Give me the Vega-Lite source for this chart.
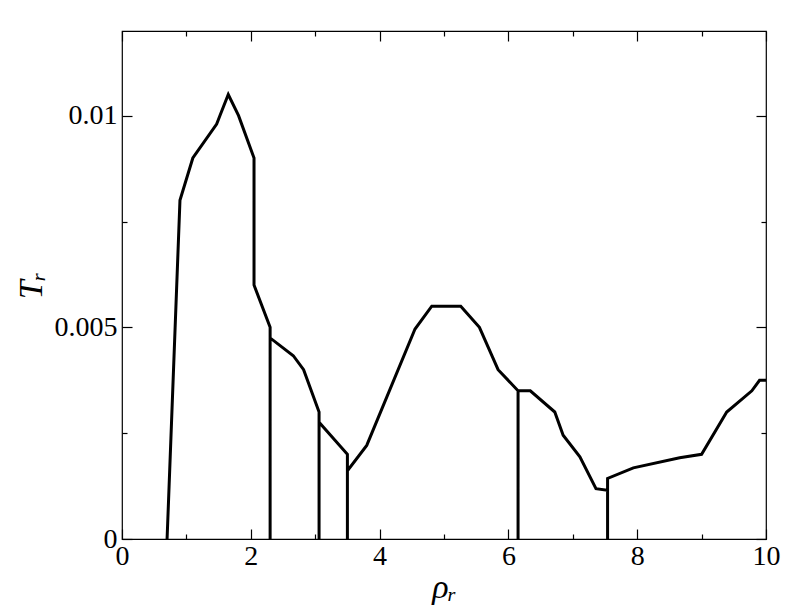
{
  "$schema": "https://vega.github.io/schema/vega-lite/v6.json",
  "autosize": "none",
  "width": 644,
  "height": 508,
  "padding": {"left": 122, "top": 31, "right": 26, "bottom": 73},
  "background": "white",
  "config": {
    "view": {"stroke": "black", "strokeWidth": 1.2},
    "axis": {
      "labelFont": "Liberation Serif",
      "titleFont": "Liberation Serif",
      "labelFontSize": 28,
      "titleFontSize": 34,
      "titleFontWeight": "normal",
      "labelColor": "black",
      "titleColor": "black",
      "tickColor": "black",
      "labelFlush": false,
      "labelOverlap": false,
      "domain": false,
      "grid": false,
      "tickWidth": 1.2
    }
  },
  "data": {
    "values": [
      {"i": 0, "x": 0.70, "y": 0},
      {"i": 1, "x": 0.90, "y": 0.0080},
      {"i": 2, "x": 1.10, "y": 0.0090},
      {"i": 3, "x": 1.47, "y": 0.0098},
      {"i": 4, "x": 1.52, "y": 0.0100},
      {"i": 5, "x": 1.65, "y": 0.0105},
      {"i": 6, "x": 1.81, "y": 0.0100},
      {"i": 7, "x": 2.05, "y": 0.0090},
      {"i": 8, "x": 2.05, "y": 0.0060},
      {"i": 9, "x": 2.30, "y": 0.0050},
      {"i": 10, "x": 2.30, "y": 0},
      {"i": 11, "x": 2.30, "y": 0.00475},
      {"i": 12, "x": 2.66, "y": 0.00433},
      {"i": 13, "x": 2.82, "y": 0.0040},
      {"i": 14, "x": 3.06, "y": 0.0030},
      {"i": 15, "x": 3.06, "y": 0},
      {"i": 16, "x": 3.06, "y": 0.00276},
      {"i": 17, "x": 3.50, "y": 0.0020},
      {"i": 18, "x": 3.50, "y": 0},
      {"i": 19, "x": 3.50, "y": 0.00161},
      {"i": 20, "x": 3.80, "y": 0.00221},
      {"i": 21, "x": 4.55, "y": 0.00496},
      {"i": 22, "x": 4.81, "y": 0.0055},
      {"i": 23, "x": 5.26, "y": 0.0055},
      {"i": 24, "x": 5.55, "y": 0.0050},
      {"i": 25, "x": 5.84, "y": 0.0040},
      {"i": 26, "x": 6.15, "y": 0.0035},
      {"i": 27, "x": 6.15, "y": 0},
      {"i": 28, "x": 6.15, "y": 0.0035},
      {"i": 29, "x": 6.34, "y": 0.0035},
      {"i": 30, "x": 6.72, "y": 0.0030},
      {"i": 31, "x": 6.85, "y": 0.00245},
      {"i": 32, "x": 7.11, "y": 0.00194},
      {"i": 33, "x": 7.36, "y": 0.00119},
      {"i": 34, "x": 7.54, "y": 0.00115},
      {"i": 35, "x": 7.54, "y": 0},
      {"i": 36, "x": 7.54, "y": 0.00143},
      {"i": 37, "x": 7.94, "y": 0.00168},
      {"i": 38, "x": 8.66, "y": 0.00192},
      {"i": 39, "x": 9.00, "y": 0.0020},
      {"i": 40, "x": 9.39, "y": 0.0030},
      {"i": 41, "x": 9.78, "y": 0.0035},
      {"i": 42, "x": 9.90, "y": 0.00375},
      {"i": 43, "x": 10.0, "y": 0.00375}
    ]
  },
  "layer": [
    {
      "mark": {"type": "line", "color": "black", "strokeWidth": 3, "strokeJoin": "miter", "clip": true},
      "encoding": {
        "x": {"field": "x", "type": "quantitative", "scale": {"domain": [0, 10], "nice": false, "zero": false},
          "axis": {"orient": "bottom", "values": [0, 2, 4, 6, 8, 10], "tickSize": -10, "labelPadding": 13, "title": "ρᵣ", "titlePadding": 0, "titleFontStyle": "italic"}},
        "y": {"field": "y", "type": "quantitative", "scale": {"domain": [0, 0.012], "nice": false, "zero": false},
          "axis": {"orient": "left", "values": [0, 0.005, 0.01], "format": "~g", "tickSize": -10, "labelPadding": 15, "title": "Tᵣ", "titlePadding": 6, "titleFontStyle": "italic", "titleAngle": -90}},
        "order": {"field": "i", "type": "quantitative"}
      }
    },
    {
      "mark": {"type": "point", "opacity": 0},
      "encoding": {
        "x": {"field": "x", "type": "quantitative", "scale": {"domain": [0, 10], "nice": false, "zero": false},
          "axis": {"orient": "top", "values": [0, 2, 4, 6, 8, 10], "tickSize": -10, "labels": false, "title": null}},
        "y": {"field": "y", "type": "quantitative", "scale": {"domain": [0, 0.012], "nice": false, "zero": false},
          "axis": {"orient": "right", "values": [0, 0.005, 0.01], "tickSize": -10, "labels": false, "title": null}}
      }
    },
    {
      "mark": {"type": "point", "opacity": 0},
      "encoding": {
        "x": {"field": "x", "type": "quantitative", "scale": {"domain": [0, 10], "nice": false, "zero": false},
          "axis": {"orient": "bottom", "values": [1, 3, 5, 7, 9], "tickSize": -5, "labels": false, "title": null}},
        "y": {"field": "y", "type": "quantitative", "scale": {"domain": [0, 0.012], "nice": false, "zero": false},
          "axis": {"orient": "left", "values": [0.0025, 0.0075], "tickSize": -5, "labels": false, "title": null}}
      }
    },
    {
      "mark": {"type": "point", "opacity": 0},
      "encoding": {
        "x": {"field": "x", "type": "quantitative", "scale": {"domain": [0, 10], "nice": false, "zero": false},
          "axis": {"orient": "top", "values": [1, 3, 5, 7, 9], "tickSize": -5, "labels": false, "title": null}},
        "y": {"field": "y", "type": "quantitative", "scale": {"domain": [0, 0.012], "nice": false, "zero": false},
          "axis": {"orient": "right", "values": [0.0025, 0.0075], "tickSize": -5, "labels": false, "title": null}}
      }
    }
  ],
  "resolve": {"axis": {"x": "independent", "y": "independent"}}
}
